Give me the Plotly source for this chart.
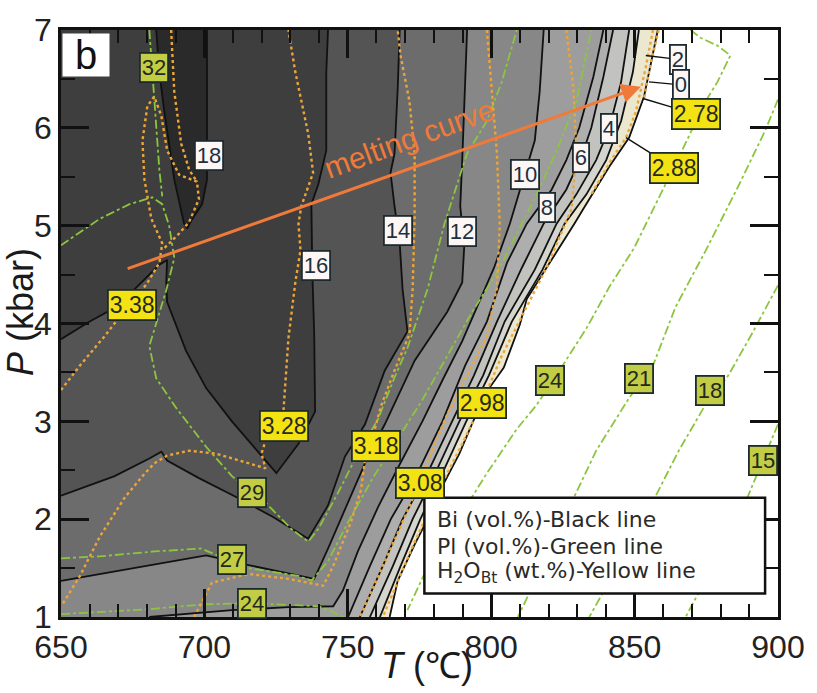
import plotly.graph_objects as go

FONT = "Liberation Sans, Arial, sans-serif"
T_RANGE = [650, 900]
P_RANGE = [1, 7]

# ---------------- Bi isopleths (vol.%), black lines ----------------
bi18_T = [683.2, 684.3, 686.0, 689.5, 692.9, 694.0, 695.4, 699.2, 700.9, 700.9, 700.9]
bi18_P = [7.0, 6.57, 6.17, 5.47, 5.02, 4.97, 5.05, 5.22, 5.47, 6.17, 7.0]

bi16_T = [650, 660.0, 669.4, 677.4, 684.3, 687.0, 686.7, 687.0, 693.6, 700.6, 709.6, 725.1,
          732.8, 738.6, 738.3, 737.6, 737.3, 739.7, 742.5, 742.5, 743.1]
bi16_P = [3.84, 4.02, 4.17, 4.40, 4.60, 4.65, 4.42, 4.22, 3.72, 3.34, 3.00, 2.47,
          2.77, 3.10, 3.87, 4.57, 5.22, 5.42, 5.77, 6.57, 7.0]

bi14_T = [650, 660.0, 668.7, 680.8, 685.0, 687.0, 698.1, 710.2, 724.1, 736.2, 743.1, 749.0,
          756.0, 762.9, 770.8, 769.1, 768.1, 766.3, 764.9, 766.3, 767.4, 768.1]
bi14_P = [2.24, 2.35, 2.44, 2.62, 2.69, 2.60, 2.42, 2.24, 2.02, 1.80, 2.14, 2.64,
          2.97, 3.52, 3.92, 4.35, 4.82, 5.20, 5.54, 5.74, 6.40, 7.0]

bi12_T = [650, 665.2, 682.5, 700.6, 715.4, 738.3, 743.1, 747.6, 757.0, 762.9, 773.3, 784.7,
          789.9, 790.6, 789.2, 789.9, 790.9, 791.6]
bi12_P = [1.37, 1.45, 1.54, 1.63, 1.53, 1.39, 1.70, 2.00, 2.64, 2.97, 3.62, 4.12,
          4.42, 4.79, 5.20, 5.67, 6.40, 7.0]

bi10_T = [818.3, 816.9, 815.2, 811.7, 806.5, 801.0, 795.1, 789.9, 783.0, 776.0, 767.4, 760.5,
          753.5, 748.3, 744.9, 729.3, 709.6, 680.8]
bi10_P = [7.0, 6.37, 5.87, 5.52, 5.02, 4.57, 4.17, 3.82, 3.42, 3.00, 2.52, 2.12,
          1.67, 1.27, 1.11, 1.10, 1.07, 1.0]

bi8_T = [839.1, 835.6, 830.7, 826.2, 821.1, 812.4, 805.5, 798.5, 790.9, 783.0, 774.3, 765.0, 757.7, 750.1]
bi8_P = [7.0, 6.52, 6.0, 5.67, 5.37, 5.02, 4.62, 4.02, 3.57, 3.0, 2.47, 2.0, 1.52, 1.0]

bi6_T = [842.5, 839.1, 834.9, 831.4, 826.2, 818.3, 810.7, 802.0, 794.0, 786.4, 777.8, 769.1, 762.2, 754.2]
bi6_P = [7.0, 6.52, 6.0, 5.70, 5.37, 5.02, 4.57, 4.02, 3.47, 3.0, 2.47, 2.0, 1.52, 1.0]

bi4_T = [848.1, 845.3, 841.1, 836.6, 829.7, 822.8, 815.2, 804.7, 797.2, 788.9, 780.5, 772.6, 765.7, 757.7]
bi4_P = [7.0, 6.47, 5.99, 5.67, 5.32, 5.02, 4.55, 4.02, 3.47, 3.0, 2.47, 2.0, 1.52, 1.0]

bi2_T = [851.5, 849.4, 845.3, 840.1, 833.2, 825.6, 817.9, 807.2, 799.2, 791.3, 783.0, 775.3, 768.4, 761.2]
bi2_P = [7.0, 6.57, 6.07, 5.67, 5.32, 5.02, 4.55, 4.02, 3.47, 3.0, 2.47, 2.0, 1.52, 1.0]

bi0_T = [858.1, 855.7, 853.3, 848.1, 841.1, 832.1, 829.0, 820.4, 812.4, 810.0, 804.4, 799.6,
         793.7, 788.9, 782.3, 777.8, 773.3, 767.4, 764.6]
bi0_P = [7.0, 6.67, 6.32, 5.90, 5.60, 5.17, 5.02, 4.62, 4.25, 3.99, 3.55, 3.35,
         3.0, 2.67, 2.30, 2.0, 1.74, 1.37, 1.0]

# shading of the Bi fields (low -> high)
bi_fill_colors = ["#ece8d0", "#d5d5cf", "#c2c2bf", "#aeaeae", "#9d9d9d", "#878787",
                  "#6c6c6c", "#545454", "#3e3e3e", "#2a2a2a"]

# ---------------- Pl isopleths (vol.%), green lines ----------------
pl32_T = [680.8, 681.8, 683.2, 684.3, 685.3]
pl32_P = [7.0, 6.57, 5.97, 5.57, 5.30]

pl29_T = [650, 663.5, 673.9, 681.8, 685.3, 687.7, 689.5, 686.7, 680.8, 683.2, 690.1, 700.6, 709.6,
          721.3, 730.3, 736.2, 739.7, 746.6, 753.5, 760.5, 766.3, 770.8, 777.8, 783.7, 791.6,
          798.5, 803.7, 808.9]
pl29_P = [4.80, 5.07, 5.22, 5.29, 5.22, 5.00, 4.67, 4.34, 3.77, 3.44, 3.14, 2.74, 2.44,
          2.17, 1.90, 1.77, 1.90, 2.27, 2.67, 3.02, 3.45, 3.75, 4.35, 5.02, 5.74,
          6.07, 6.47, 7.0]

pl27_T = [650, 663.5, 682.5, 698.8, 715.4, 732.8, 737.3, 743.1, 750.1, 758.7, 767.4, 776.0,
          784.7, 793.4, 802.0, 808.9, 815.9, 822.8, 829.7, 834.9]
pl27_P = [1.60, 1.62, 1.67, 1.70, 1.50, 1.42, 1.37, 1.57, 1.97, 2.42, 2.82, 3.22,
          3.67, 4.12, 4.52, 4.92, 5.32, 5.77, 6.27, 7.0]

pl24a_T = [650, 680.8, 699.9, 716.5, 739.7, 744.9, 748.3]
pl24a_P = [1.03, 1.08, 1.13, 1.14, 1.11, 1.05, 1.0]

pl24b_T = [869.5, 873.0, 878.9, 883.4, 878.9, 874.7, 866.1, 857.4, 849.8, 841.1, 833.2, 823.8,
           815.9, 808.9, 798.5, 790.6, 783.0, 776.7, 770.8]
pl24b_P = [7.0, 6.92, 6.84, 6.74, 6.47, 6.27, 5.74, 5.22, 4.77, 4.37, 3.95, 3.52,
           3.17, 2.92, 2.47, 2.10, 1.72, 1.44, 1.07]

pl21_T = [900, 895.5, 886.1, 874.7, 864.3, 856.4, 848.1, 836.6, 828.0, 818.6, 809.3]
pl21_P = [6.29, 5.97, 5.40, 4.74, 4.17, 3.57, 3.24, 2.70, 2.17, 1.57, 1.0]

pl18_T = [900, 891.0, 882.7, 874.7, 865.4, 857.4, 847.0, 834.2]
pl18_P = [4.39, 3.90, 3.47, 3.17, 2.70, 2.24, 1.67, 1.0]

pl15_T = [900, 894.8, 889.6, 878.2, 867.8]
pl15_P = [2.97, 2.60, 2.24, 1.57, 1.0]

# ---------------- H2O in Bt (wt.%), yellow dotted lines ----------------
h338_T = [650, 656.6, 665.2, 673.2, 679.8, 684.3, 685.3, 681.5, 679.1, 678.4, 680.1, 682.5,
          685.0, 687.0, 691.2, 697.4, 698.1, 694.7, 691.2, 686.0, None,
          688.4, 689.5, 691.9, 694.7, 697.4]
h338_P = [3.32, 3.57, 3.87, 4.17, 4.40, 4.62, 4.82, 5.07, 5.47, 5.87, 6.22, 6.32,
          6.12, 5.77, 5.52, 5.45, 5.27, 5.04, 4.92, 4.77, None,
          7.0, 6.37, 5.84, 5.57, 5.45]

h328_T = [650.7, 656.6, 663.5, 672.2, 678.4, 682.5, 687.0, 694.7, 704.0, 713.7, 721.3, 719.9,
          721.3, 727.6, 729.3, 731.7, 733.5, 732.8, 733.8, 737.9, 736.2, 731.7, 729.3]
h328_P = [1.14, 1.42, 1.82, 2.22, 2.44, 2.57, 2.65, 2.70, 2.67, 2.59, 2.52, 2.67,
          2.80, 3.12, 3.85, 4.42, 4.75, 5.02, 5.20, 5.54, 5.94, 6.57, 7.0]

h318_T = [696.4, 702.6, 715.4, 729.3, 741.4, 744.9, 748.3, 751.1, 754.6, 756.0, 759.4, 761.5,
          766.3, 771.5, 772.6, 773.3, 773.3, 771.5, 768.4, 767.4]
h318_P = [1.0, 1.35, 1.44, 1.39, 1.32, 1.52, 1.77, 1.97, 2.30, 2.60, 2.92, 3.15,
          3.52, 3.89, 4.35, 5.07, 5.74, 6.27, 6.74, 7.0]

h308_T = [798.5, 800.3, 802.0, 803.0, 802.0, 798.5, 791.6, 784.7, 779.5, 775.0, 769.1, 762.2, 754.2]
h308_P = [7.0, 6.37, 5.74, 5.0, 4.37, 3.87, 3.47, 3.07, 2.72, 2.37, 1.97, 1.52, 1.0]

h298_T = [826.2, 828.7, 829.7, 828.0, 819.3, 810.7, 803.7, 796.8, 789.9, 781.2, 772.6, 762.2]
h298_P = [7.0, 6.4, 5.74, 5.17, 4.57, 4.07, 3.67, 3.19, 2.77, 2.27, 1.72, 1.0]

h288_T = [856.4, 853.9, 850.5, 847.0, 841.8, 834.9]
h288_P = [7.0, 6.62, 6.17, 5.9, 5.67, 5.32]

h278_T = [858.4, 855.7, 853.3]
h278_P = [7.0, 6.67, 6.30]

# ---------------- labels ----------------
bi_lab_text = ["18", "16", "14", "12", "10", "8", "6", "4"]
bi_lab_T = [701.6, 739.0, 767.4, 789.9, 811.7, 819.3, 831.4, 841.1]
bi_lab_P = [5.72, 4.59, 4.95, 4.94, 5.52, 5.19, 5.70, 5.99]
bi_lead_text = ["2", "0"]
bi_lead_T = [853.9, 855.0]
bi_lead_P = [6.74, 6.47]

h_lab_text = ["3.38", "3.28", "3.18", "3.08", "2.98"]
h_lab_T = [674.9, 727.6, 759.8, 775.0, 796.8]
h_lab_P = [4.19, 2.95, 2.75, 2.37, 3.19]
h_lead_text = ["2.78", "2.88"]
h_lead_T = [852.9, 847.0]
h_lead_P = [6.30, 5.90]

pl_lab_text = ["32", "29", "27", "24", "24", "21", "18", "15"]
pl_lab_T = [682.5, 716.5, 709.6, 716.5, 820.4, 851.5, 876.4, 894.8]
pl_lab_P = [6.62, 2.27, 1.59, 1.14, 3.42, 3.44, 3.32, 2.60]

melt_T = [672.2, 852.2]
melt_P = [4.55, 6.42]

x_ticks = [650, 700, 750, 800, 850, 900]
y_ticks = [1, 2, 3, 4, 5, 6, 7]

legend_lines = ["Bi (vol.%)-Black line", "Pl (vol.%)-Green line",
                "H<sub>2</sub>O<sub>Bt</sub> (wt.%)-Yellow line"]

# ---------------- figure ----------------
fig = go.Figure()

bi_T_list = [bi0_T, bi2_T, bi4_T, bi6_T, bi8_T, bi10_T, bi12_T, bi14_T, bi16_T, bi18_T]
bi_P_list = [bi0_P, bi2_P, bi4_P, bi6_P, bi8_P, bi10_P, bi12_P, bi14_P, bi16_P, bi18_P]

# filled "greater than" regions, drawn from lowest to highest value
for i, (tt, pp) in enumerate(zip(bi_T_list, bi_P_list)):
    if i <= 5:
        xs = tt + [T_RANGE[0], T_RANGE[0]]
        ys = pp + [P_RANGE[0], P_RANGE[1]]
    elif i <= 8:
        xs = tt + [T_RANGE[0]]
        ys = pp + [P_RANGE[1]]
    else:
        xs, ys = tt, pp
    fig.add_trace(go.Scatter(x=xs, y=ys, mode="lines", fill="toself",
                             fillcolor=bi_fill_colors[i], line=dict(width=0),
                             hoverinfo="skip", showlegend=False))

# black Bi lines
for tt, pp in zip(bi_T_list, bi_P_list):
    fig.add_trace(go.Scatter(x=tt, y=pp, mode="lines", line=dict(color="#111111", width=1.8),
                             hoverinfo="skip", showlegend=False))

# green Pl lines
for tt, pp in [(pl32_T, pl32_P), (pl29_T, pl29_P), (pl27_T, pl27_P), (pl24a_T, pl24a_P),
               (pl24b_T, pl24b_P), (pl21_T, pl21_P), (pl18_T, pl18_P), (pl15_T, pl15_P)]:
    fig.add_trace(go.Scatter(x=tt, y=pp, mode="lines",
                             line=dict(color="#8cc63f", width=1.8, dash="dashdot"),
                             hoverinfo="skip", showlegend=False))

# yellow H2O lines
for tt, pp in [(h338_T, h338_P), (h328_T, h328_P), (h318_T, h318_P), (h308_T, h308_P),
               (h298_T, h298_P), (h288_T, h288_P), (h278_T, h278_P)]:
    fig.add_trace(go.Scatter(x=tt, y=pp, mode="lines", connectgaps=False,
                             line=dict(color="#eaa63a", width=2.4, dash="dot"),
                             hoverinfo="skip", showlegend=False))

ann = []

def box(x, y, text, bg, fc, size, **kw):
    d = dict(x=x, y=y, xref="x", yref="y", text=text, showarrow=False,
             font=dict(family=FONT, size=size, color=fc), bgcolor=bg,
             bordercolor="#1c2a30", borderwidth=1.8, borderpad=1)
    d.update(kw)
    return d

for t, x, y in zip(bi_lab_text, bi_lab_T, bi_lab_P):
    ann.append(box(x, y, t, "#fcf6f4", "#1e3040", 22))
for t, x, y, ax, ay in zip(bi_lead_text, bi_lead_T, bi_lead_P, [32, 32], [4, 3]):
    ann.append(box(x, y, t, "#fcf6f4", "#1e3040", 22, showarrow=True, arrowhead=0,
                   arrowwidth=1.4, arrowcolor="#111111", ax=ax, ay=ay))
for t, x, y in zip(h_lab_text, h_lab_T, h_lab_P):
    ann.append(box(x, y, t, "#f3e312", "#262a20", 23))
for t, x, y, ax, ay in zip(h_lead_text, h_lead_T, h_lead_P, [53, 48], [16, 30]):
    ann.append(box(x, y, t, "#f3e312", "#262a20", 23, showarrow=True, arrowhead=0,
                   arrowwidth=1.4, arrowcolor="#111111", ax=ax, ay=ay))
for t, x, y in zip(pl_lab_text, pl_lab_T, pl_lab_P):
    ann.append(box(x, y, t, "#c2cc44", "#1e2a20", 22))

# melting curve arrow and text
ann.append(dict(x=melt_T[1], y=melt_P[1], ax=melt_T[0], ay=melt_P[0], xref="x", yref="y",
                axref="x", ayref="y", showarrow=True, arrowhead=2, arrowsize=1.3,
                arrowwidth=3, arrowcolor="#f07a3a", text=" "))
ann.append(dict(x=771.5, y=5.89, xref="x", yref="y", text="melting curve", showarrow=False,
                textangle=-20, font=dict(family=FONT, size=30, color="#f07a3a")))

# panel label
ann.append(dict(x=0.035, y=0.958, xref="paper", yref="paper", text="b", showarrow=False,
                xanchor="center", yanchor="middle",
                font=dict(family=FONT, size=40, color="#111111"), bgcolor="#ffffff",
                width=44, height=40))

# legend text
for txt, y in zip(legend_lines, [2.0, 1.725, 1.45]):
    ann.append(dict(x=780.5, y=y, xref="x", yref="y", text=txt, showarrow=False,
                    xanchor="left", yanchor="middle",
                    font=dict(family="DejaVu Sans, sans-serif", size=22, color="#2a2a2a")))

# axis titles
ann.append(dict(x=0.511, y=-0.083, xref="paper", yref="paper", text="<i>T</i> (℃)",
                showarrow=False, xanchor="center", yanchor="middle",
                font=dict(family=FONT, size=36, color="#1a1a1a")))
ann.append(dict(x=-0.0568, y=0.52, xref="paper", yref="paper", text="<i>P</i> (kbar)",
                showarrow=False, textangle=-90, xanchor="center", yanchor="middle",
                font=dict(family=FONT, size=36, color="#1a1a1a")))

axis_common = dict(showline=True, linewidth=2.5, linecolor="#111111", mirror="ticks",
                   ticks="inside", ticklen=28, tickwidth=2.5, tickcolor="#111111",
                   showgrid=False, zeroline=False, ticklabeloverflow="allow",
                   tickfont=dict(family=FONT, size=32, color="#222222"))

fig.update_layout(
    width=817, height=693,
    margin=dict(l=61, r=34, t=17, b=76),
    paper_bgcolor="#ffffff", plot_bgcolor="#ffffff",
    showlegend=False, hovermode=False,
    annotations=ann,
    shapes=[dict(type="rect", xref="x", yref="y", x0=776.7, x1=895.5, y0=1.24, y1=2.22,
                 line=dict(color="#111111", width=2.5), fillcolor="#ffffff", layer="above")],
    xaxis=dict(range=T_RANGE, tickvals=x_ticks,
               minor=dict(ticks="inside", ticklen=13, tickwidth=2, tickcolor="#111111", dtick=10),
               **axis_common),
    yaxis=dict(range=P_RANGE, tickvals=y_ticks,
               minor=dict(ticks="inside", ticklen=14, tickwidth=2, tickcolor="#111111", dtick=0.5),
               **axis_common),
)

fig.write_html("out.html")
